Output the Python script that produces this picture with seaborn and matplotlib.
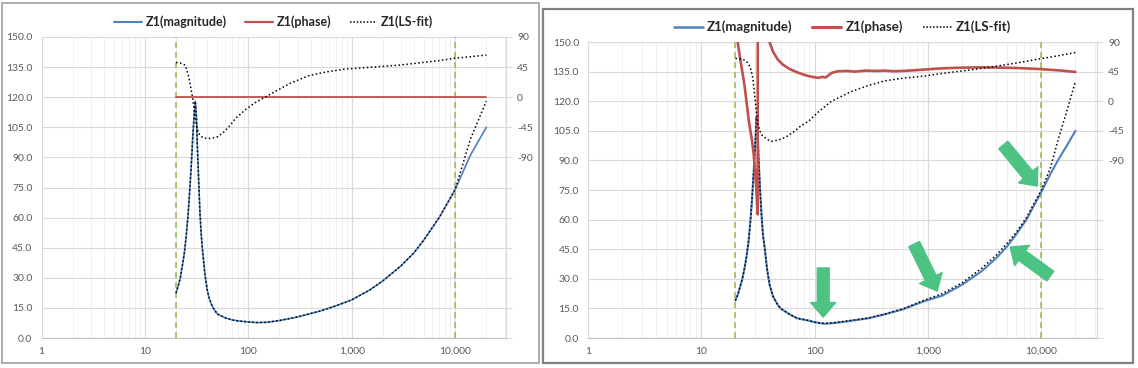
import matplotlib
matplotlib.use("Agg")
import matplotlib.pyplot as plt
import matplotlib.ticker as mticker
from matplotlib.lines import Line2D
from matplotlib.patches import Rectangle
import numpy as np
import pandas as pd
import seaborn as sns

# ---------------- data ----------------
# Left panel
freq_mag_L = [20, 21, 22, 23, 24, 25, 26, 27, 28, 29, 30, 30.7, 31.5, 32, 33, 34, 35, 36, 38, 40, 42,
              45, 50, 60, 70, 80, 100, 120, 150, 200, 300, 500, 700, 1000, 1500, 2000, 3000, 4000,
              5000, 7000, 10000, 14000, 20000]
mag_L = [22.5, 26, 30, 36, 42, 50, 60, 72, 85, 100, 112, 118, 110, 98, 80, 63, 52, 44, 32, 24, 19.5,
         15.5, 12, 10, 9, 8.5, 8, 7.7, 7.8, 8.7, 10.5, 13.5, 16, 19, 24, 28.5, 36, 42.5,
         49, 60, 74, 91, 105]
fit_mag_L = [22.5, 26, 30, 36, 42, 50, 60, 72, 85, 100, 112, 118, 110, 98, 80, 63, 52, 44, 32, 24, 19.5,
             15.5, 12, 10, 9, 8.5, 8, 7.7, 7.8, 8.7, 10.5, 13.5, 16, 19, 24, 28.5, 36, 42.5,
             49, 60, 74, 99, 118]
freq_ph_L = [20, 20000]
phase_L = [0, 0]
freq_fitph_L = [20, 22, 24.5, 26.5, 28.8, 30, 31.5, 33, 36, 40, 45, 50.6, 58, 65, 76, 95, 114, 145, 200,
                256, 382, 575, 860, 1290, 2900, 6400, 9700, 20000]
fit_phase_L = [52, 51, 48, 31, 1, -20, -42, -54, -60, -62, -61, -59, -52, -44, -31, -18, -9, 0, 12,
               21, 32, 38, 42, 44, 48, 54, 58, 63]

# Right panel
freq_mag_R = [20, 21, 22, 23, 24, 25, 26, 27, 28, 29, 30, 30.7, 31.5, 32, 33, 34, 35, 36, 38, 40, 43,
              47, 50, 60, 70, 89, 100, 121, 150, 192, 300, 417, 600, 910, 1340, 2000, 3000, 4000,
              5000, 6000, 7400, 8500, 10000, 12000, 14000, 17000, 20000]
mag_R = [19, 22, 26, 30, 35, 41, 48, 58, 70, 85, 100, 112, 104, 92, 75, 62, 52, 47, 35, 27, 21,
         17, 15, 12, 10, 8.8, 8, 7.2, 7.6, 8.4, 10, 12, 14.5, 18.5, 21.5, 27, 34, 40.5,
         46.5, 52.5, 60, 66.5, 74, 83, 90, 98, 105]
fit_mag_R = [19, 22, 26, 30, 35, 41, 48, 58, 70, 85, 100, 112, 104, 92, 75, 62, 52, 47, 35, 27, 21,
             17, 15, 12, 10, 8.8, 8, 7.4, 7.8, 8.6, 10.2, 12.2, 14.8, 19, 22.5, 28, 35.5, 42,
             48, 53.5, 61, 67.5, 75, 86, 100, 116, 130]
freq_ph_R = [20, 21, 22, 24, 26.3, 28, 29, 30.5, 31.4, 31.5, 35, 38, 40, 43, 47, 52, 60, 70, 81, 92,
             103, 110, 116, 125, 141, 160, 192, 230, 280, 350, 417, 500, 600, 750, 910, 1200, 1600,
             2000, 3000, 4300, 6000, 9400, 14000, 20000]
phase_R = [110, 88, 65, 25, -31, -60, -81, -130, -172, 185, 140, 105, 90, 75, 64, 56, 49, 44, 40, 37.5,
           36, 35.5, 37, 36, 43, 45.5, 46, 45, 46.5, 46, 46.5, 45.5, 46, 47, 48, 49.5, 50.5,
           51, 51.5, 51, 50.5, 49, 47, 44.5]
freq_fitph_R = [20, 23, 25, 27, 28.5, 29.5, 30.5, 31.5, 33, 34.5, 38, 42, 48, 55, 65, 75, 89, 110, 141,
                212, 300, 417, 600, 910, 1300, 2000, 3000, 4330, 6500, 9400, 14000, 20000]
fit_phase_R = [65, 64, 61, 52, 35, 10, -15, -35, -46, -52, -58, -61, -59, -55, -47, -38, -30, -15, 0,
               15, 24, 31, 35, 38, 42, 46, 50, 54, 59, 64, 69, 74]

marker_freqs = [20, 10000]

# annotation arrows on the right panel: (tail_f, tail_v, head_f, head_v)
arrows_R = [(119, 35.5, 119, 10.6),
            (755, 47.6, 1205, 23.8),
            (12000, 31.4, 5320, 46.1),
            (4620, 97.8, 9220, 77.0)]

legend_labels = ["Z1(magnitude)", "Z1(phase)", "Z1(LS-fit)"]
x_ticks = [1, 10, 100, 1000, 10000]
x_ticklabels = ["1", "10", "100", "1,000", "10,000"]
left_ticks = [0, 15, 30, 45, 60, 75, 90, 105, 120, 135, 150]
right_ticks = list(range(-360, 91, 45))

# ---------------- style ----------------
sns.set_theme(style="white")
plt.rcParams['font.family'] = ['Lato', 'DejaVu Sans']

BLUE = "#4F81BD"
RED = "#C0504D"
GREEN = "#9BBB59"
ARROW = "#4DC383"
GRID = "#D9D9D9"
MINOR = "#EFEFEF"
TXT = "#595959"

W, H = 1138, 368
fig = plt.figure(figsize=(W / 100, H / 100), dpi=100)
fig.patch.set_facecolor("white")


def frac(x0, y0, x1, y1):
    return [x0 / W, 1 - y1 / H, (x1 - x0) / W, (y1 - y0) / H]


# panel frames
fig.patches.append(Rectangle((2 / W, 1 - 363 / H), 537 / W, 360 / H, transform=fig.transFigure,
                             fill=False, edgecolor="#A6A6A6", lw=1.3, zorder=0))
fig.patches.append(Rectangle((543 / W, 1 - 363 / H), 590 / W, 354 / H, transform=fig.transFigure,
                             fill=False, edgecolor="#808080", lw=1.6, zorder=0))

axL = fig.add_axes(frac(41.5, 37, 506, 338))
axR = fig.add_axes(frac(588, 42, 1097, 338))


def setup(ax):
    ax.set_xscale("log")
    ax.set_xlim(1, 31000)
    ax.set_ylim(0, 150)
    ax.set_yticks(left_ticks)
    ax.set_yticklabels([f"{v:.1f}" for v in left_ticks])
    ax.xaxis.set_major_locator(mticker.FixedLocator(x_ticks))
    ax.xaxis.set_major_formatter(mticker.FixedFormatter(x_ticklabels))
    ax.xaxis.set_minor_locator(mticker.LogLocator(base=10, subs=np.arange(2, 10), numticks=20))
    ax.xaxis.set_minor_formatter(mticker.NullFormatter())
    ax.grid(True, which="major", axis="both", color=GRID, lw=0.8)
    ax.grid(True, which="minor", axis="x", color=MINOR, lw=0.7)
    ax.set_axisbelow(True)
    for s in ["left", "top", "right"]:
        ax.spines[s].set_visible(False)
    ax.spines["bottom"].set_color("#BFBFBF")
    ax.spines["bottom"].set_linewidth(0.8)
    ax.tick_params(axis="x", which="both", length=0, pad=6.5, labelsize=7.5, labelcolor=TXT)
    ax.tick_params(axis="y", length=0, pad=6.5, labelsize=7.5, labelcolor=TXT)
    ax.set_xlabel("")
    ax.set_ylabel("")
    ax2 = ax.twinx()
    ax2.set_ylim(-360, 90)
    ax2.set_yticks(right_ticks)
    ax2.set_yticklabels([str(v) if v >= -90 else "" for v in right_ticks])
    for s in ["left", "top", "bottom"]:
        ax2.spines[s].set_visible(False)
    ax2.spines["right"].set_color(GRID)
    ax2.spines["right"].set_linewidth(0.8)
    ax2.tick_params(axis="y", length=4, width=0.8, color=GRID, pad=4, labelsize=7.5, labelcolor=TXT)
    ax2.grid(False)
    return ax2


def draw(ax, fm, m, ffm, fit_m, fp, p, ffp, fit_p, lw_mag, lw_ph, lw_fit, fs_leg, seg):
    ax2 = setup(ax)
    for f in marker_freqs:
        sns.lineplot(x=[f, f], y=[0, 150], ax=ax, color=GREEN, lw=1.2,
                     linestyle=(0, (3.5, 2.5)), estimator=None, sort=False, zorder=2)
    sns.lineplot(x=fm, y=m, ax=ax, color=BLUE, lw=lw_mag, estimator=None, sort=False, zorder=3)
    sns.lineplot(x=ffm, y=fit_m, ax=ax, color="black", lw=lw_fit, linestyle=(0, (1, 1.6)),
                 estimator=None, sort=False, zorder=4)
    sns.lineplot(x=fp, y=p, ax=ax2, color=RED, lw=lw_ph, estimator=None, sort=False, zorder=3)
    sns.lineplot(x=ffp, y=fit_p, ax=ax2, color="black", lw=lw_fit, linestyle=(0, (1, 1.6)),
                 estimator=None, sort=False, zorder=4)
    ax2.set_ylabel("")
    ax.set_xlabel("")
    ax.set_ylabel("")
    handles = [Line2D([], [], color=BLUE, lw=lw_mag + 0.3),
               Line2D([], [], color=RED, lw=lw_ph + 0.3),
               Line2D([], [], color="black", lw=lw_fit, linestyle=(0, (1, 1.2)))]
    leg = ax2.legend(handles, legend_labels, loc="center", bbox_to_anchor=(0.5, seg),
                     ncol=3, frameon=False, handlelength=2.2, handletextpad=0.3,
                     columnspacing=1.5, prop={"weight": "bold", "size": fs_leg})
    for t in leg.get_texts():
        t.set_color("#262626")
    return ax2


draw(axL, freq_mag_L, mag_L, freq_mag_L, fit_mag_L, freq_ph_L, phase_L, freq_fitph_L, fit_phase_L,
     1.2, 1.3, 1.1, 9, 1.05)
axR2 = draw(axR, freq_mag_R, mag_R, freq_mag_R, fit_mag_R, freq_ph_R, phase_R, freq_fitph_R,
            fit_phase_R, 1.5, 1.9, 1.1, 9.5, 1.051)

# green annotation arrows (right panel, data coordinates of the magnitude axis)
for tf, tv, hf, hv in arrows_R:
    axR.annotate("", xy=(hf, hv), xytext=(tf, tv), xycoords="data", textcoords="data",
                 arrowprops=dict(arrowstyle="simple,head_length=0.55,head_width=0.95,tail_width=0.45",
                                 color=ARROW, shrinkA=0, shrinkB=0, mutation_scale=19),
                 zorder=6)

fig.savefig("out.png", dpi=100, facecolor="white")
